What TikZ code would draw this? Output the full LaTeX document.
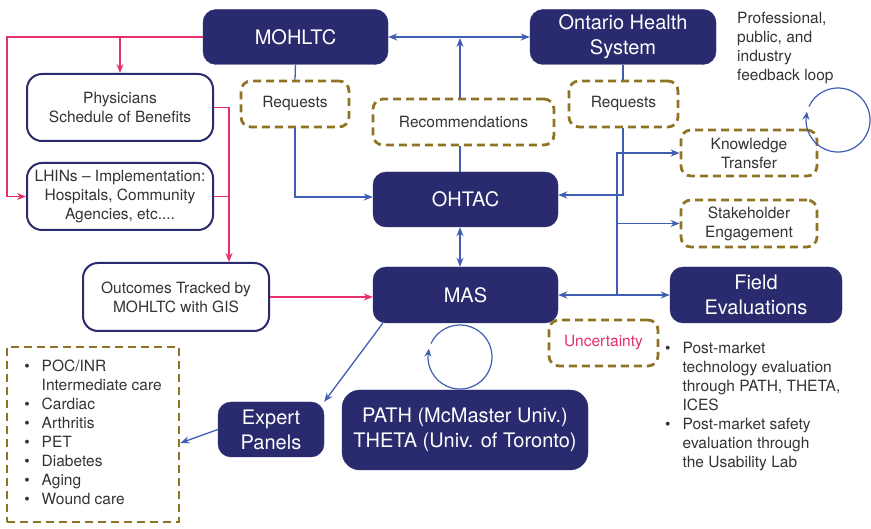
\documentclass[tikz,border=0pt]{standalone}
\usepackage{fontspec}
\setmainfont{TeX Gyre Heros}
\usetikzlibrary{arrows.meta,bending,positioning}
\definecolor{boxnavy}{HTML}{2A2A6E}
\definecolor{linkblue}{HTML}{3F5DB3}
\definecolor{linkpink}{HTML}{E5306C}
\definecolor{dashgold}{HTML}{8E7424}
\definecolor{txtgray}{HTML}{333333}
\tikzset{
  bigbox/.style={fill=boxnavy, draw=boxnavy, rounded corners=13pt, text=white,
    align=center, inner sep=0pt, font=\fontsize{20}{25}\selectfont},
  whitebox/.style={fill=white, draw=boxnavy, line width=2pt, rounded corners=15pt,
    text=txtgray, align=center, inner sep=0pt, font=\fontsize{15.5}{19}\selectfont},
  dashbox/.style={draw=dashgold, line width=2.8pt, dash pattern=on 8pt off 5pt,
    rounded corners=10pt, text=txtgray, align=center, inner sep=0pt,
    font=\fontsize{15.5}{19}\selectfont},
  plaintext/.style={text=txtgray, inner sep=0pt, anchor=north west,
    font=\fontsize{15.5}{19}\selectfont},
  bl/.style={draw=linkblue, line width=1.3pt},
  bl arrow/.style={bl, -{Stealth[length=9pt,width=7pt]}},
  bl both/.style={bl, {Stealth[length=9pt,width=7pt]}-{Stealth[length=9pt,width=7pt]}},
  bl loop/.style={draw=linkblue, line width=1.2pt, -{Stealth[length=8pt,width=7pt,bend]}},
  pk/.style={draw=linkpink, line width=1.5pt},
  pk arrow/.style={pk, -{Stealth[length=9pt,width=7pt]}}
}

\begin{document}
\begin{tikzpicture}[x=1pt,y=-1pt]
  \useasboundingbox (0,0) rectangle (871,529);

  % main boxes
  \node[bigbox, minimum width=185pt, minimum height=55pt] (mohltc) at (295.5,37) {MOHLTC};
  \node[bigbox, minimum width=186pt, minimum height=55pt, text depth=5pt] (ohs) at (623,37) {Ontario Health\\System};
  \node[bigbox, minimum width=185pt, minimum height=55pt] (ohtac) at (465.5,199.5) {OHTAC};
  \node[bigbox, minimum width=185pt, minimum height=56pt] (mas) at (465.5,295) {MAS};
  \node[bigbox, minimum width=172pt, minimum height=56pt] (field) at (756,295) {Field\\Evaluations};
  \node[bigbox, minimum width=106pt, minimum height=55pt] (expert) at (271,429.5) {Expert\\Panels};
  \node[bigbox, minimum width=246pt, minimum height=80pt, rounded corners=18pt] (path) at (465,430)
    {PATH (McMaster Univ.)\\THETA (Univ. of Toronto)};

  \node[whitebox, minimum width=186pt, minimum height=67pt] (physicians) at (120,107.5)
    {Physicians\\Schedule of Benefits};
  \node[whitebox, minimum width=186pt, minimum height=67pt] (lhins) at (120,196.5)
    {LHINs -- Implementation:\\Hospitals, Community\\Agencies, etc....};
  \node[whitebox, minimum width=186pt, minimum height=68pt] (outcomes) at (176,297)
    {Outcomes Tracked by\\MOHLTC with GIS};

  \node[dashbox, minimum width=108pt, minimum height=46pt] (reqL) at (295,104) {Requests};
  \node[dashbox, minimum width=181pt, minimum height=46pt] (rec) at (463.5,122) {Recommendations};
  \node[dashbox, minimum width=109pt, minimum height=46pt] (reqR) at (623.5,104) {Requests};
  \node[dashbox, minimum width=136pt, minimum height=46pt] (know) at (749,153) {Knowledge\\Transfer};
  \node[dashbox, minimum width=136pt, minimum height=47pt] (stake) at (749,223.5) {Stakeholder\\Engagement};
  \node[dashbox, minimum width=109pt, minimum height=46pt, text=linkpink] (unc) at (603.5,343) {Uncertainty};

  \node[dashbox, sharp corners, minimum width=172pt, minimum height=175pt] (topics) at (93,434.5) {%
    \begin{tabular}{@{}l@{\hspace{12pt}}l@{}}
      \textbullet & POC/INR\\
                  & Intermediate care\\
      \textbullet & Cardiac\\
      \textbullet & Arthritis\\
      \textbullet & PET\\
      \textbullet & Diabetes\\
      \textbullet & Aging\\
      \textbullet & Wound care
    \end{tabular}};

  % free texts
  \node[plaintext] (loopnote) at (737,10) {%
    \begin{tabular}{@{}l@{}}
      Professional,\\ public, and\\ industry\\ feedback loop
    \end{tabular}};
  \node[plaintext] (fieldnote) at (665,340) {%
    \begin{tabular}{@{}l@{\hspace{12pt}}l@{}}
      \textbullet & Post-market\\
                  & technology evaluation\\
                  & through PATH, THETA,\\
                  & ICES\\
      \textbullet & Post-market safety\\
                  & evaluation through\\
                  & the Usability Lab
    \end{tabular}};

  % pink links
  \coordinate (pv) at (229,0);
  \draw[pk arrow] (mohltc.west) -| ([xshift=-19pt]lhins.west) -- (lhins.west);
  \draw[pk arrow] (mohltc.west -| physicians.north) -- (physicians.north);
  \draw[pk arrow] (physicians.east) -| (pv |- outcomes.north);
  \draw[pk] (lhins.east) -- (lhins.east -| pv);
  \draw[pk arrow] (outcomes.east) -- (mas.west |- outcomes.east);

  % blue links
  \coordinate (cx) at (460,0);
  \coordinate (sp) at (617,0);
  \draw[bl both] (mohltc.east) -- (ohs.west);
  \draw[bl] (ohtac.north -| cx) -- (rec.south -| cx);
  \draw[bl arrow] (rec.north -| cx) -- ([yshift=-1pt]mohltc.east -| cx);
  \draw[bl] (mohltc.south) -- (reqL.north);
  \draw[bl arrow] (reqL.south) |- ([yshift=2.5pt]ohtac.west);
  \draw[bl] (ohs.south) -- (ohs.south |- reqR.north);
  \draw[bl arrow] (ohs.south |- reqR.south) |- ([yshift=4.5pt]ohtac.east);
  \draw[bl arrow] (sp |- mas.east) |- (know.west);
  \draw[bl arrow] (sp |- stake.west) -- (stake.west);
  \draw[bl arrow] (sp |- mas.east) -- (mas.east);
  \draw[bl arrow] (sp |- field.west) -- (field.west);
  \draw[bl both] (ohtac.south -| cx) -- (mas.north -| cx);
  \draw[bl arrow] ([xshift=10pt]mas.south west) -- (expert.north east);
  \draw[bl arrow] (expert.west) -- ([yshift=-8.5pt]topics.east);

  % feedback loops
  \coordinate (masloop) at (460,357);
  \coordinate (fbloop) at (838,120);
  \draw[bl loop] (masloop) ++(-29,-13.5) arc[start angle=155, end angle=-195, radius=32pt];
  \draw[bl loop] (fbloop) ++(-29,-13.5) arc[start angle=155, end angle=-195, radius=32pt];
\end{tikzpicture}
\end{document}
